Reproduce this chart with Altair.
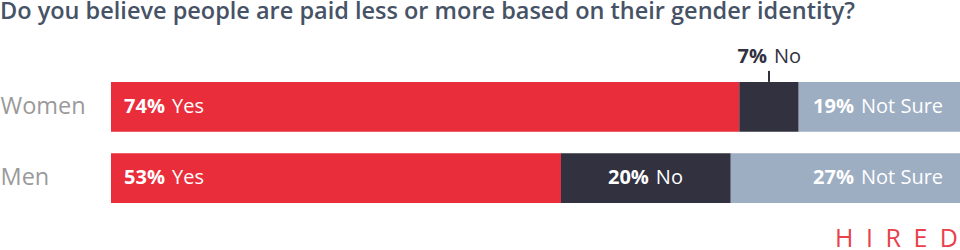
import altair as alt
import pandas as pd

# Survey answers by gender (percent of respondents)
genders = ["Women", "Men"]
answers = ["Yes", "No", "Not Sure"]
women_pct = [74, 7, 19]
men_pct = [53, 20, 27]
answer_colors = ["#E92D3A", "#32313F", "#9DADC2"]

title_text = "Do you believe people are paid less or more based on their gender identity?"
brand_text = "\u2002".join("HIRED")  # wordmark with wide letter spacing

PLOT_W = 849
PLOT_H = 121
PX = PLOT_W / 100  # pixels per percentage point

rows = []
for g, vals in zip(genders, [women_pct, men_pct]):
    start = 0
    for a, v in zip(answers, vals):
        end = start + v
        rows.append(dict(gender=g, answer=a, pct=v, start=start, end=end,
                         mid=(start + end) / 2, pct_label=f"{v}%"))
        start = end
df = pd.DataFrame(rows)

# Narrow segments get their label above the bar with a small leader tick
df["outside"] = df["pct"] * PX < 90


def anchor(r):
    # x position (in data units) where the bold percentage ends
    if r.answer == "Yes":
        return r.start + 54 / PX
    if r.answer == "Not Sure":
        return r.end - 106 / PX
    return r.mid + (-2 if r.outside else 3) / PX


df["anchor"] = df.apply(anchor, axis=1)

FONT = "Open Sans"
x_scale = alt.Scale(domain=[0, 100], nice=False, zero=False)
y_enc = alt.Y(
    "gender:N", sort=genders,
    scale=alt.Scale(paddingInner=0.3, paddingOuter=0),
    axis=alt.Axis(title=None, ticks=False, domain=False, labelAlign="left",
                  labelPadding=111, labelFontSize=23.5, labelColor="#9A9A9A",
                  labelFont=FONT, labelFontWeight="normal"),
)

base = alt.Chart(df)

bars = base.mark_bar().encode(
    x=alt.X("start:Q", scale=x_scale, axis=None),
    x2="end:Q",
    y=y_enc,
    color=alt.Color("answer:N", scale=alt.Scale(domain=answers, range=answer_colors), legend=None),
)

inside = base.transform_filter("!datum.outside")
pct_in = inside.mark_text(align="right", baseline="middle", font=FONT, fontSize=20,
                          fontWeight="bold", color="white").encode(
    x=alt.X("anchor:Q", scale=x_scale), y=alt.Y("gender:N", sort=genders), text="pct_label:N")
word_in = inside.mark_text(align="left", baseline="middle", font=FONT, fontSize=20,
                           color="white", dx=7).encode(
    x=alt.X("anchor:Q", scale=x_scale), y=alt.Y("gender:N", sort=genders), text="answer:N")

outside = base.transform_filter("datum.outside")
pct_out = outside.mark_text(align="right", baseline="middle", font=FONT, fontSize=20,
                            fontWeight="bold", color="#32313F", dy=-50).encode(
    x=alt.X("anchor:Q", scale=x_scale), y=alt.Y("gender:N", sort=genders), text="pct_label:N")
word_out = outside.mark_text(align="left", baseline="middle", font=FONT, fontSize=20,
                             color="#32313F", dx=7, dy=-50).encode(
    x=alt.X("anchor:Q", scale=x_scale), y=alt.Y("gender:N", sort=genders), text="answer:N")
leader = outside.mark_rule(color="#32313F", strokeWidth=2, yOffset=-36, y2Offset=-25).encode(
    x=alt.X("mid:Q", scale=x_scale), y=alt.Y("gender:N", sort=genders), y2="gender:N")

title = alt.Chart(pd.DataFrame({"t": [title_text]})).mark_text(
    align="left", baseline="alphabetic", font=FONT, fontSize=23.5, fontWeight=600,
    color="#465266").encode(text="t:N", x=alt.value(-111), y=alt.value(-63.3))

brand = alt.Chart(pd.DataFrame({"t": [brand_text]})).mark_text(
    align="right", baseline="alphabetic", font=FONT, fontSize=25,
    color="#E9414C").encode(text="t:N", x=alt.value(PLOT_W - 2), y=alt.value(164.5))

chart = alt.layer(bars, pct_in, word_in, pct_out, word_out, leader, title, brand).properties(
    width=PLOT_W, height=PLOT_H,
    autosize=alt.AutoSizeParams(type="none"),
    padding={"left": 111, "top": 82, "right": 0, "bottom": 47},
).configure_view(stroke=None)

chart.save("out.html", embed_options={"renderer": "svg", "actions": False})
